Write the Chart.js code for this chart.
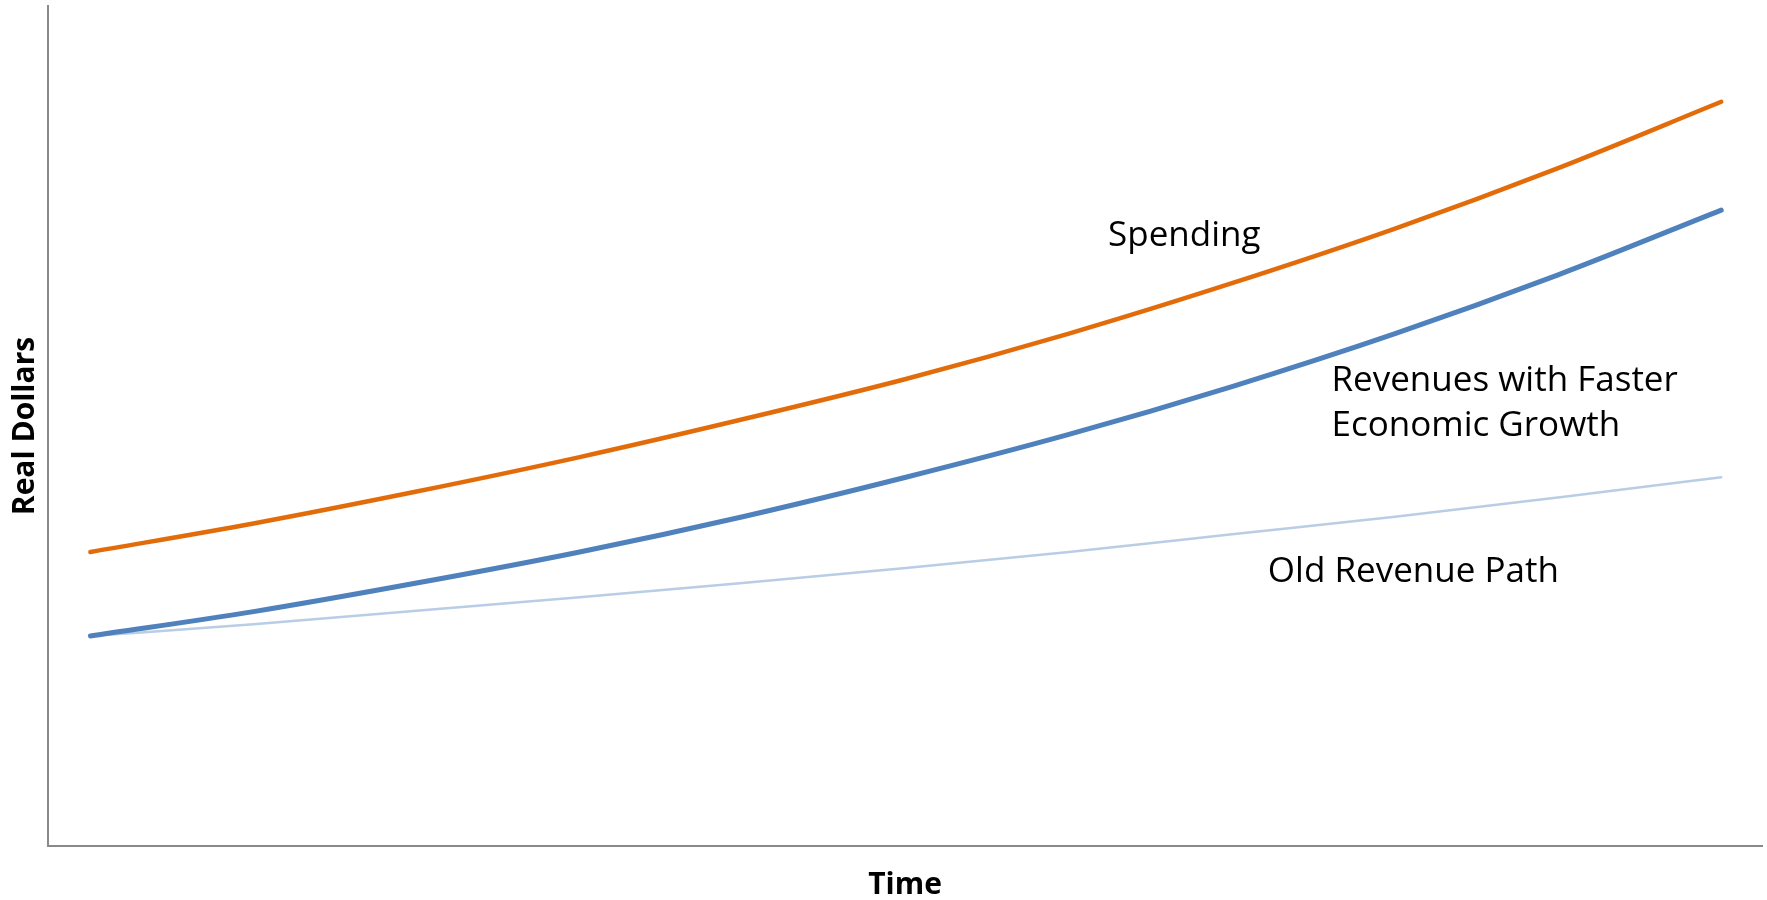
<!DOCTYPE html>
<html>
<head>
<meta charset="utf-8">
<title>Spending and Revenue Paths</title>
<script src="https://cdn.jsdelivr.net/npm/chart.js@4.4.1/dist/chart.umd.min.js"></script>
<style>
  html, body { margin: 0; padding: 0; background: #ffffff; }
  #wrap { width: 1767px; height: 900px; }
</style>
</head>
<body>
<div id="wrap"><canvas id="chart" width="1767" height="900"></canvas></div>
<script>
// Time index (0 = start of projection, 100 = end)
const timeIndex = [0, 10, 20, 30, 40, 50, 60, 70, 80, 90, 100];

// Real dollars, relative units
const spending        = [35.0, 38.4, 42.2, 46.3, 50.8, 55.6, 61.0, 67.0, 73.5, 80.7, 88.6];
const revenuesFaster  = [25.0, 27.9, 31.3, 35.0, 39.2, 43.9, 49.0, 54.7, 61.0, 68.0, 75.7];
const oldRevenuePath  = [25.0, 26.4, 28.0, 29.6, 31.3, 33.1, 35.0, 37.1, 39.2, 41.5, 43.9];

const seriesNames = ['Spending', 'Revenues with Faster Economic Growth', 'Old Revenue Path'];

// In-plot labels: text lines anchored at a time index / value position
const labelText = [['Spending'], ['Revenues with Faster', 'Economic Growth'], ['Old Revenue Path']];
const labelTime = [62.4, 76.1, 72.2];
const labelValue = [72.6, 55.3, 32.6];

const FONT = "'Open Sans', 'Noto Sans', sans-serif";

function points(values) {
  return values.map((v, i) => ({ x: timeIndex[i], y: v }));
}

const seriesLabels = {
  id: 'seriesLabels',
  afterDatasetsDraw(chart) {
    const { ctx, scales } = chart;
    ctx.save();
    ctx.fillStyle = '#000000';
    ctx.font = '35px ' + FONT;
    ctx.textAlign = 'left';
    ctx.textBaseline = 'middle';
    const lineGap = 45;
    labelText.forEach((lines, i) => {
      const x = scales.x.getPixelForValue(labelTime[i]);
      const y0 = scales.y.getPixelForValue(labelValue[i]);
      lines.forEach((t, j) => ctx.fillText(t, x, y0 + j * lineGap));
    });
    ctx.restore();
  }
};

new Chart(document.getElementById('chart'), {
  type: 'line',
  data: {
    datasets: [
      {
        label: seriesNames[0],
        data: points(spending),
        borderColor: '#E36C0A',
        borderWidth: 4.5
      },
      {
        label: seriesNames[1],
        data: points(revenuesFaster),
        borderColor: '#4F81BD',
        borderWidth: 5
      },
      {
        label: seriesNames[2],
        data: points(oldRevenuePath),
        borderColor: '#B9CDE5',
        borderWidth: 2.5
      }
    ]
  },
  options: {
    responsive: false,
    animation: false,
    devicePixelRatio: 1,
    layout: { padding: { top: 6, right: 5, bottom: 0, left: 0 } },
    elements: {
      point: { radius: 0, hoverRadius: 0 },
      line: { tension: 0.4, cubicInterpolationMode: 'monotone', borderCapStyle: 'round', fill: false }
    },
    plugins: {
      legend: { display: false },
      tooltip: { enabled: false }
    },
    scales: {
      x: {
        type: 'linear',
        min: -2.6,
        max: 102.5,
        grid: { display: false, drawTicks: false },
        border: { display: true, color: '#898989', width: 2 },
        ticks: { display: false },
        title: {
          display: true,
          text: 'Time',
          color: '#000000',
          font: { family: FONT, size: 30, weight: 'bold' },
          padding: { top: 21, bottom: -3 }
        }
      },
      y: {
        type: 'linear',
        min: 0,
        max: 100,
        grid: { display: false, drawTicks: false },
        border: { display: true, color: '#898989', width: 2 },
        ticks: { display: false },
        title: {
          display: true,
          text: 'Real Dollars',
          color: '#000000',
          font: { family: FONT, size: 30, weight: 'bold' },
          padding: { top: 7, bottom: 5 }
        }
      }
    }
  },
  plugins: [seriesLabels]
});
</script>
</body>
</html>
